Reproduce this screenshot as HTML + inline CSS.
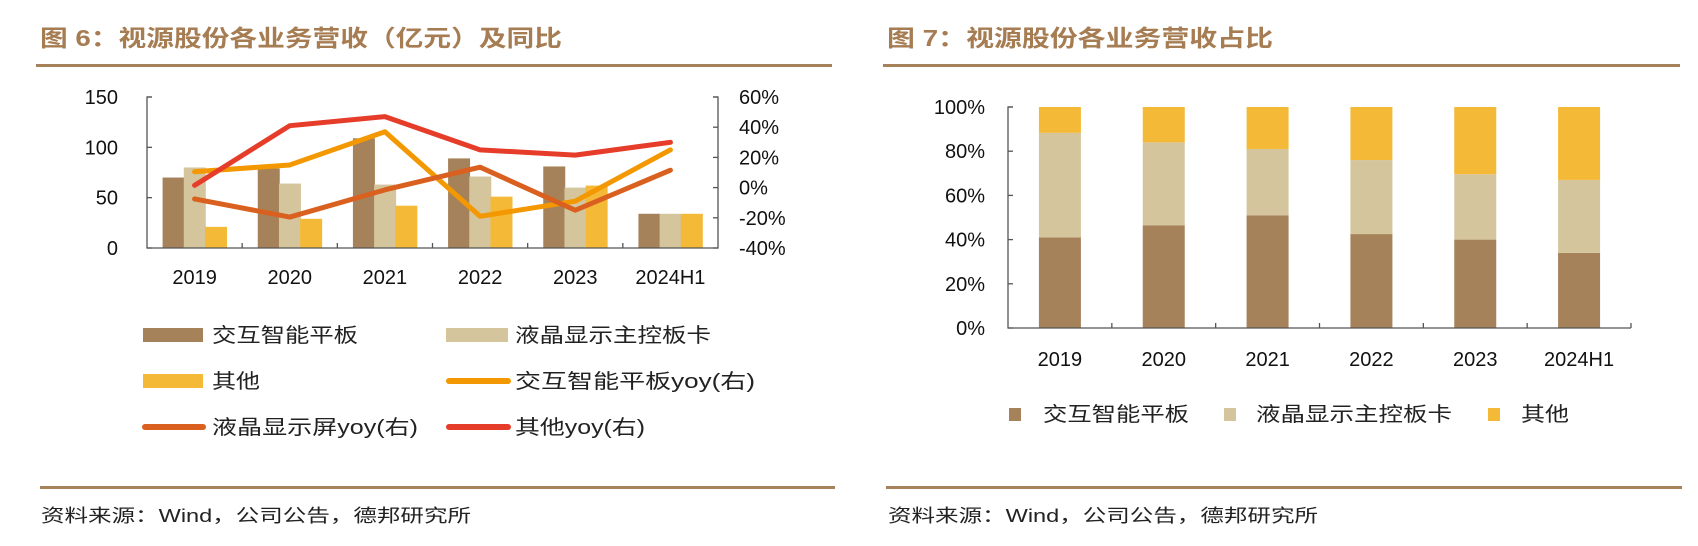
<!DOCTYPE html>
<html><head><meta charset="utf-8">
<style>
html,body{margin:0;padding:0;background:#fff;}
svg{display:block;}
text{font-family:"Liberation Sans","Noto Sans CJK SC",sans-serif;}
.cn{font-family:"Liberation Sans","Noto Sans CJK SC",sans-serif;}
</style></head>
<body>
<svg id="svg" width="1698" height="546" viewBox="0 0 1698 546" xmlns="http://www.w3.org/2000/svg">
  <!-- Left figure header -->
  <text x="40" y="46" font-size="23" font-weight="bold" fill="#a67c52" textLength="522" lengthAdjust="spacingAndGlyphs">图 6：视源股份各业务营收（亿元）及同比</text>
  <rect x="36" y="64" width="796" height="3" fill="#a6825a"/>
  <rect x="40" y="486" width="795" height="3" fill="#a6825a"/>
  <text x="41" y="522" font-size="18" fill="#222" textLength="430" lengthAdjust="spacingAndGlyphs">资料来源：Wind，公司公告，德邦研究所</text>

  <!-- Right figure header -->
  <text x="887" y="46" font-size="23" font-weight="bold" fill="#a67c52" textLength="386" lengthAdjust="spacingAndGlyphs">图 7：视源股份各业务营收占比</text>
  <rect x="883" y="64" width="797" height="3" fill="#a6825a"/>
  <rect x="886" y="486" width="796" height="3" fill="#a6825a"/>
  <text x="888" y="522" font-size="18" fill="#222" textLength="430" lengthAdjust="spacingAndGlyphs">资料来源：Wind，公司公告，德邦研究所</text>

  <g id="left"></g>
  <g id="right"></g>

  <!-- Left legend -->
  <g>
    <rect x="143" y="328" width="60" height="14" fill="#a6825a"/>
    <text x="212" y="342" font-size="20" fill="#222" textLength="146" lengthAdjust="spacingAndGlyphs">交互智能平板</text>
    <rect x="446" y="328" width="62" height="14" fill="#d5c59d"/>
    <text x="515" y="342" font-size="20" fill="#222" textLength="196" lengthAdjust="spacingAndGlyphs">液晶显示主控板卡</text>
    <rect x="143" y="374" width="60" height="14" fill="#f4b937"/>
    <text x="212" y="388" font-size="20" fill="#222" textLength="48" lengthAdjust="spacingAndGlyphs">其他</text>
    <line x1="449" y1="381" x2="508" y2="381" stroke="#f39800" stroke-width="6" stroke-linecap="round"/>
    <text x="515" y="388" font-size="20" fill="#222" textLength="240" lengthAdjust="spacingAndGlyphs">交互智能平板yoy(右)</text>
    <line x1="145" y1="427" x2="203" y2="427" stroke="#d9601f" stroke-width="6" stroke-linecap="round"/>
    <text x="212" y="434" font-size="20" fill="#222" textLength="206" lengthAdjust="spacingAndGlyphs">液晶显示屏yoy(右)</text>
    <line x1="449" y1="427" x2="508" y2="427" stroke="#e63c2a" stroke-width="6" stroke-linecap="round"/>
    <text x="515" y="434" font-size="20" fill="#222" textLength="130" lengthAdjust="spacingAndGlyphs">其他yoy(右)</text>
  </g>

  <!-- Right legend -->
  <g>
    <rect x="1009" y="408" width="12" height="13" fill="#a6825a"/>
    <text x="1043" y="421" font-size="20" fill="#222" textLength="146" lengthAdjust="spacingAndGlyphs">交互智能平板</text>
    <rect x="1224" y="408" width="12" height="13" fill="#d5c59d"/>
    <text x="1256" y="421" font-size="20" fill="#222" textLength="196" lengthAdjust="spacingAndGlyphs">液晶显示主控板卡</text>
    <rect x="1488" y="408" width="12" height="13" fill="#f4b937"/>
    <text x="1521" y="421" font-size="20" fill="#222" textLength="48" lengthAdjust="spacingAndGlyphs">其他</text>
  </g>
</svg>
<script>
const categories = ["2019","2020","2021","2022","2023","2024H1"];
const tabletRev = [70, 79, 109, 89, 81, 34];
const lcdRev = [80, 64, 63, 71, 60, 34];
const otherRev = [21, 29, 42, 51, 62, 34];
const tabletYoy = [10.5, 15, 37, -19, -9, 25];
const lcdYoy = [-7.5, -19.5, -1.5, 13.5, -15, 11.5];
const otherYoy = [1.5, 41, 47, 25, 21.5, 30];
const leftTicks = [0, 50, 100, 150];
const rightTicks = [-40, -20, 0, 20, 40, 60];
const tabletShare = [41, 46.5, 51, 42.5, 40, 34];
const lcdShare = [47.3, 37.5, 30, 33.5, 29.6, 33];
const otherShare = [11.7, 16, 19, 24, 30.4, 33];
const shareTicks = [0, 20, 40, 60, 80, 100];

const NS = "http://www.w3.org/2000/svg";
function mk(parent, tag, attrs) {
  const e = document.createElementNS(NS, tag);
  for (const k in attrs) e.setAttribute(k, attrs[k]);
  parent.appendChild(e);
  return e;
}

// ---- Left chart ----
const L = document.getElementById('left');
const lx0 = 147, lx1 = 718, ly0 = 248, ly1 = 97;
const lcw = (lx1 - lx0) / categories.length;
const yL = v => ly0 - (v - 0) / 150 * (ly0 - ly1);
const yR = v => ly0 - (v + 40) / 100 * (ly0 - ly1);
const xC = i => lx0 + lcw * (i + 0.5);

const lBarSeries = [[tabletRev, '#a6825a', 'bar-tablet'], [lcdRev, '#d5c59d', 'bar-lcd'], [otherRev, '#f4b937', 'bar-other']];
lBarSeries.forEach((s, si) => {
  s[0].forEach((v, i) => {
    const r = mk(L, 'rect', {x: xC(i) - 32 + si * 21.2, y: yL(v), width: 22, height: ly0 - yL(v), fill: s[1]});
    
    
  });
});
// axes
let ax = mk(L, 'path', {d: `M${lx0 + 5} ${ly1}H${lx0}V${ly0}H${lx1}V${ly1}H${lx1 - 5}`, fill: 'none', stroke: '#555', 'stroke-width': 1.3});


leftTicks.forEach(t => {
  mk(L, 'line', {x1: lx0, x2: lx0 + 5, y1: yL(t), y2: yL(t), stroke: '#555', 'stroke-width': 1.3});
  const tx = mk(L, 'text', {x: 118, y: yL(t) + 7, 'font-size': 20, 'text-anchor': 'end', fill: '#111'});
  tx.textContent = t;
  
  
});
rightTicks.forEach(t => {
  mk(L, 'line', {x1: lx1 - 5, x2: lx1, y1: yR(t), y2: yR(t), stroke: '#555', 'stroke-width': 1.3});
  const tx = mk(L, 'text', {x: 739, y: yR(t) + 7, 'font-size': 20, fill: '#111'});
  tx.textContent = t + '%';
  
  
});
categories.forEach((c, i) => {
  if (i > 0) mk(L, 'line', {x1: lx0 + lcw * i, x2: lx0 + lcw * i, y1: ly0, y2: ly0 - 5, stroke: '#555', 'stroke-width': 1.3});
  const tx = mk(L, 'text', {x: xC(i), y: 284, 'font-size': 20, 'text-anchor': 'middle', fill: '#111'});
  tx.textContent = c;
  
  
});
const lineSeries = [[tabletYoy, '#f39800', 'line-tablet-yoy'], [lcdYoy, '#d9601f', 'line-lcd-yoy'], [otherYoy, '#e63c2a', 'line-other-yoy']];
lineSeries.forEach(s => {
  const pts = s[0].map((v, i) => xC(i) + ',' + yR(v)).join(' ');
  const p = mk(L, 'polyline', {points: pts, fill: 'none', stroke: s[1], 'stroke-width': 5, 'stroke-linecap': 'round', 'stroke-linejoin': 'round'});
  
  
});

// ---- Right chart ----
const R = document.getElementById('right');
const rx0 = 1008, rx1 = 1631, ry0 = 328, ry1 = 107;
const rcw = (rx1 - rx0) / categories.length;
const yS = v => ry0 - v / 100 * (ry0 - ry1);
const xR = i => rx0 + rcw * (i + 0.5);
categories.forEach((c, i) => {
  let base = 0;
  [[tabletShare, '#a6825a', 'share-tablet'], [lcdShare, '#d5c59d', 'share-lcd'], [otherShare, '#f4b937', 'share-other']].forEach(s => {
    const v = s[0][i];
    const top = Math.min(base + v, 100);
    const r = mk(R, 'rect', {x: xR(i) - 21, y: yS(top), width: 42, height: yS(base) - yS(top), fill: s[1]});
    
    
    base = top;
  });
  if (i > 0) mk(R, 'line', {x1: rx0 + rcw * i, x2: rx0 + rcw * i, y1: ry0, y2: ry0 - 5, stroke: '#555', 'stroke-width': 1.3});
  const tx = mk(R, 'text', {x: xR(i), y: 366, 'font-size': 20, 'text-anchor': 'middle', fill: '#111'});
  tx.textContent = c;
  
  
});
mk(R, 'line', {x1: rx1, x2: rx1, y1: ry0, y2: ry0 - 5, stroke: '#555', 'stroke-width': 1.3});
ax = mk(R, 'path', {d: `M${rx0 + 5} ${ry1}H${rx0}V${ry0}H${rx1}`, fill: 'none', stroke: '#555', 'stroke-width': 1.3});


shareTicks.forEach(t => {
  mk(R, 'line', {x1: rx0, x2: rx0 + 5, y1: yS(t), y2: yS(t), stroke: '#555', 'stroke-width': 1.3});
  const tx = mk(R, 'text', {x: 985, y: yS(t) + 7, 'font-size': 20, 'text-anchor': 'end', fill: '#111'});
  tx.textContent = t + '%';
  
  
});
</script>
</body></html>
